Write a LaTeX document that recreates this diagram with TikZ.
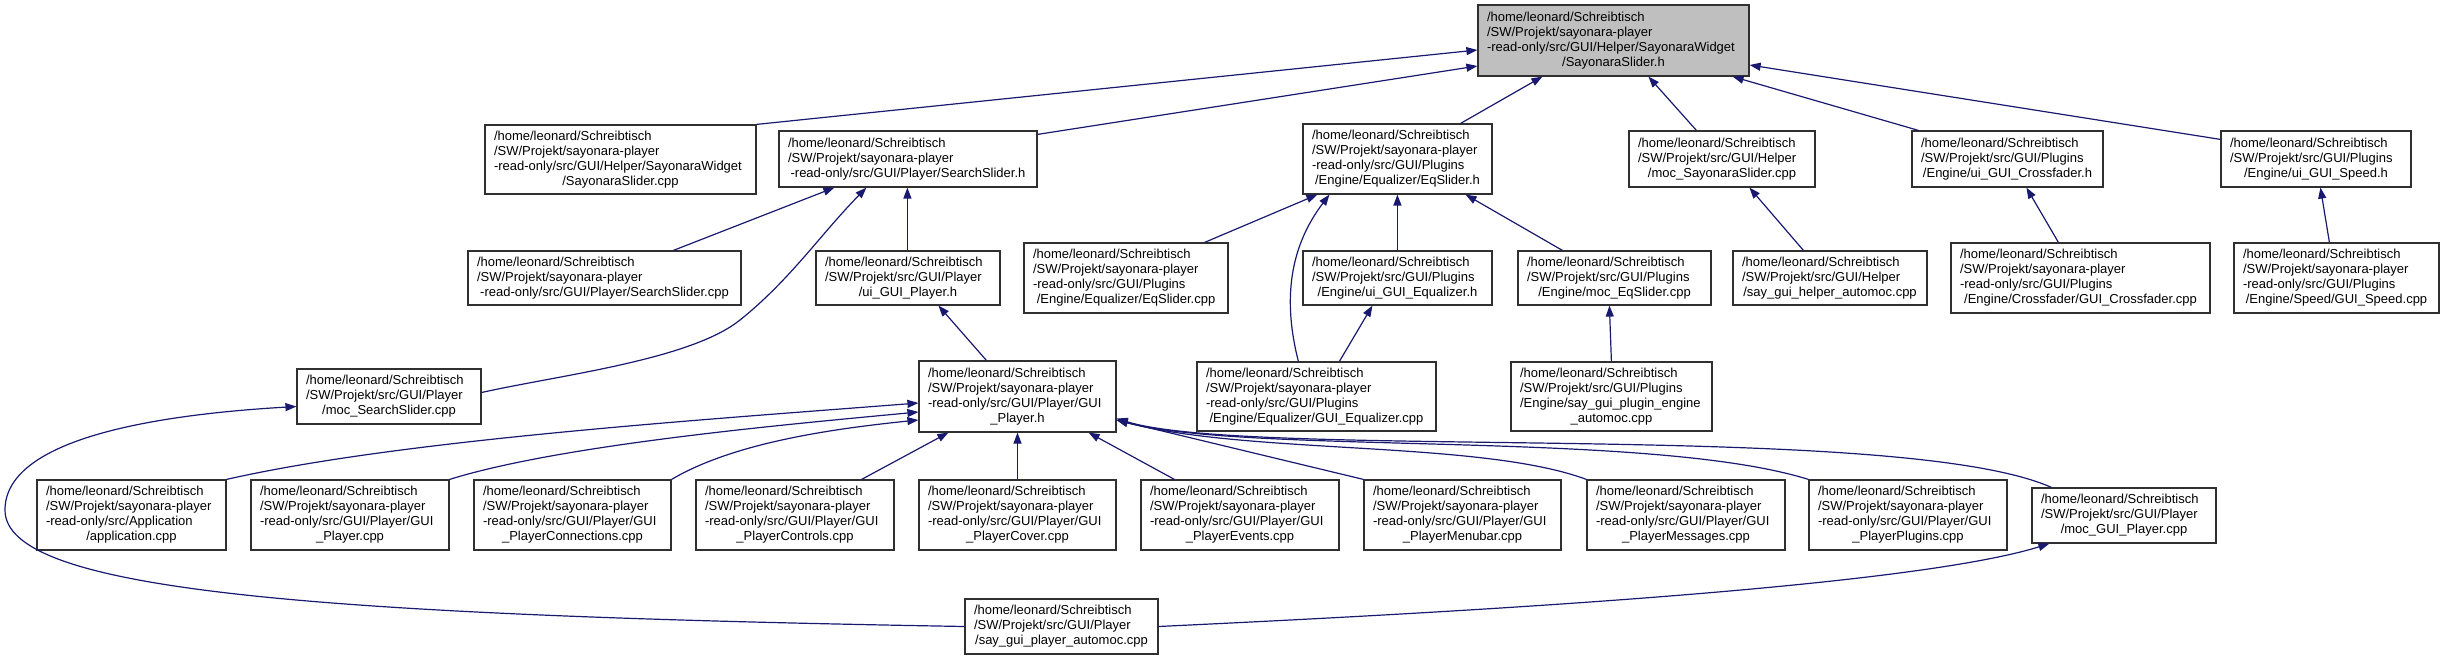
\documentclass[tikz,border=0pt]{standalone}
\usepackage{fontspec}
\setmainfont{Liberation Sans}
\usetikzlibrary{arrows.meta}
\definecolor{edgec}{HTML}{191970}
\definecolor{rootc}{HTML}{BFBFBF}
\definecolor{bordc}{HTML}{303030}
\newcommand\lastl[1]{\\\hspace*{\fill}#1\hspace*{\fill}\hbox{}}
\newcommand\dn[7][]{%
  \pgfmathsetmacro\nw{#5-#3}\pgfmathsetmacro\nh{#6-#4}\pgfmathsetmacro\tw{#5-#3-18}%
  \pgfmathsetmacro\cx{(#3+#5)/2}\pgfmathsetmacro\cy{(#4+#6)/2}%
  \node[box,#1,minimum width=\nw pt,minimum height=\nh pt,text width=\tw pt] (#2) at (\cx,\cy) {#7};}
\tikzset{
  box/.style={draw=bordc, line width=1.2pt, fill=white, inner xsep=9pt, inner ysep=0pt,
    align=left, font=\fontsize{13}{15}\selectfont, anchor=center},
  rootbox/.style={fill=rootc},
  edge/.style={draw=edgec, line width=1.2pt, {Triangle[length=11pt,width=8pt]}-}
}
\def\hs{/home/leonard/Schreibtisch}
\def\sp{/SW/Projekt/sayonara-player}
\begin{document}
\begin{tikzpicture}[x=1pt,y=-1pt]
\useasboundingbox (0,0) rectangle (2444,660);
% row 1
\dn[rootbox]{top}{1478}{5}{1749}{76}{\hs\\\sp\\-read-only/src/GUI/Helper/SayonaraWidget\lastl{/SayonaraSlider.h}}
% row 2
\dn{A}{485}{125}{756}{194}{\hs\\\sp\\-read-only/src/GUI/Helper/SayonaraWidget\lastl{/SayonaraSlider.cpp}}
\dn{B}{779}{131}{1037}{187}{\hs\\\sp\lastl{-read-only/src/GUI/Player/SearchSlider.h}}
\dn{C}{1303}{124}{1492}{194}{\hs\\\sp\\-read-only/src/GUI/Plugins\lastl{/Engine/Equalizer/EqSlider.h}}
\dn{D}{1629}{131}{1815}{187}{\hs\\/SW/Projekt/src/GUI/Helper\lastl{/moc\_SayonaraSlider.cpp}}
\dn{E}{1912}{131}{2103}{187}{\hs\\/SW/Projekt/src/GUI/Plugins\lastl{/Engine/ui\_GUI\_Crossfader.h}}
\dn{F}{2221}{131}{2411}{187}{\hs\\/SW/Projekt/src/GUI/Plugins\lastl{/Engine/ui\_GUI\_Speed.h}}
% row 3
\dn{G}{468}{251}{741}{305}{\hs\\\sp\lastl{-read-only/src/GUI/Player/SearchSlider.cpp}}
\dn{H}{816}{251}{1000}{305}{\hs\\/SW/Projekt/src/GUI/Player\lastl{/ui\_GUI\_Player.h}}
\dn{I}{1024}{243}{1228}{313}{\hs\\\sp\\-read-only/src/GUI/Plugins\lastl{/Engine/Equalizer/EqSlider.cpp}}
\dn{J}{1303}{251}{1492}{305}{\hs\\/SW/Projekt/src/GUI/Plugins\lastl{/Engine/ui\_GUI\_Equalizer.h}}
\dn{K}{1518}{251}{1711}{305}{\hs\\/SW/Projekt/src/GUI/Plugins\lastl{/Engine/moc\_EqSlider.cpp}}
\dn{L}{1733}{251}{1927}{305}{\hs\\/SW/Projekt/src/GUI/Helper\lastl{/say\_gui\_helper\_automoc.cpp}}
\dn{M}{1951}{243}{2210}{313}{\hs\\\sp\\-read-only/src/GUI/Plugins\lastl{/Engine/Crossfader/GUI\_Crossfader.cpp}}
\dn{N}{2234}{243}{2439}{313}{\hs\\\sp\\-read-only/src/GUI/Plugins\lastl{/Engine/Speed/GUI\_Speed.cpp}}
% row 4
\dn{O}{297}{369}{481}{424}{\hs\\/SW/Projekt/src/GUI/Player\lastl{/moc\_SearchSlider.cpp}}
\dn{P}{919}{361}{1116}{432}{\hs\\\sp\\-read-only/src/GUI/Player/GUI\lastl{\_Player.h}}
\dn{Q}{1197}{362}{1436}{431}{\hs\\\sp\\-read-only/src/GUI/Plugins\lastl{/Engine/Equalizer/GUI\_Equalizer.cpp}}
\dn{R}{1511}{362}{1712}{431}{\hs\\/SW/Projekt/src/GUI/Plugins\\/Engine/say\_gui\_plugin\_engine\lastl{\_automoc.cpp}}
% row 5
\dn{S1}{37}{480}{226}{550}{\hs\\\sp\\-read-only/src/Application\lastl{/application.cpp}}
\dn{S2}{251}{480}{449}{550}{\hs\\\sp\\-read-only/src/GUI/Player/GUI\lastl{\_Player.cpp}}
\dn{S3}{474}{480}{671}{550}{\hs\\\sp\\-read-only/src/GUI/Player/GUI\lastl{\_PlayerConnections.cpp}}
\dn{S4}{696}{480}{894}{550}{\hs\\\sp\\-read-only/src/GUI/Player/GUI\lastl{\_PlayerControls.cpp}}
\dn{S5}{919}{480}{1116}{550}{\hs\\\sp\\-read-only/src/GUI/Player/GUI\lastl{\_PlayerCover.cpp}}
\dn{S6}{1141}{480}{1339}{550}{\hs\\\sp\\-read-only/src/GUI/Player/GUI\lastl{\_PlayerEvents.cpp}}
\dn{S7}{1364}{480}{1561}{550}{\hs\\\sp\\-read-only/src/GUI/Player/GUI\lastl{\_PlayerMenubar.cpp}}
\dn{S8}{1587}{480}{1785}{550}{\hs\\\sp\\-read-only/src/GUI/Player/GUI\lastl{\_PlayerMessages.cpp}}
\dn{S9}{1809}{480}{2007}{550}{\hs\\\sp\\-read-only/src/GUI/Player/GUI\lastl{\_PlayerPlugins.cpp}}
\dn{S10}{2032}{488}{2216}{543}{\hs\\/SW/Projekt/src/GUI/Player\lastl{/moc\_GUI\_Player.cpp}}
% row 6
\dn{T}{965}{599}{1158}{654}{\hs\\/SW/Projekt/src/GUI/Player\lastl{/say\_gui\_player\_automoc.cpp}}
% edges into top
\draw[edge] ([yshift=-9.5pt]top.west) -- (A.north east);
\draw[edge] ([yshift=-25.5pt]top.west) -- ([yshift=-4pt]B.north east);
\draw[edge] ([xshift=65pt]top.south west) -- ([xshift=-32pt]C.north east);
\draw[edge] ([xshift=171pt]top.south west) -- ([xshift=68pt]D.north west);
\draw[edge] ([xshift=-17pt]top.south east) -- ([xshift=7pt]E.north west);
\draw[edge] ([yshift=-24.5pt]top.east) -- ([yshift=-9pt]F.north west);
% into B
\draw[edge] ([xshift=56pt]B.south west) -- ([xshift=206pt]G.north west);
\draw[edge] ([xshift=88pt]B.south west) .. controls (820,235) and (790,280) .. (740,320)
  .. controls (690,360) and (560,375) .. ([yshift=4pt]O.east);
\draw[edge] ([xshift=129pt]B.south west) -- ([xshift=92pt]H.north west);
% into C
\draw[edge] ([xshift=15pt]C.south west) -- ([xshift=-24pt]I.north east);
\draw[edge] ([xshift=27pt]C.south west) .. controls (1295,240) and (1280,290) .. ([xshift=102pt]Q.north west);
\draw[edge] ([xshift=95pt]C.south west) -- ([xshift=95pt]J.north west);
\draw[edge] ([xshift=-27pt]C.south east) -- ([xshift=45pt]K.north west);
% into D, E, F
\draw[edge] ([xshift=121pt]D.south west) -- ([xshift=71pt]L.north west);
\draw[edge] ([xshift=115pt]E.south west) -- ([xshift=108pt]M.north west);
\draw[edge] ([xshift=100pt]F.south west) -- ([xshift=96pt]N.north west);
% row 3 to row 4
\draw[edge] ([xshift=123pt]H.south west) -- ([xshift=68pt]P.north west);
\draw[edge] ([xshift=70pt]J.south west) -- ([xshift=143pt]Q.north west);
\draw[edge] ([xshift=92pt]K.south west) -- ([xshift=101pt]R.north west);
% O <- T
\draw[edge] ([yshift=-10pt]O.west) .. controls (150,415) and (5,440) .. (5,510)
  .. controls (5,590) and (300,615) .. (T.west);
% into P
\draw[edge] ([yshift=-6.5pt]P.west) .. controls (700,420) and (400,440) .. (S1.north east);
\draw[edge] ([yshift=-15.5pt]P.west) .. controls (780,425) and (560,445) .. (S2.north east);
\draw[edge] ([yshift=-23.5pt]P.west) .. controls (820,430) and (730,445) .. (S3.north east);
\draw[edge] ([xshift=30pt]P.south west) -- ([xshift=-33pt]S4.north east);
\draw[edge] (P.south) -- (S5.north);
\draw[edge] ([xshift=-28pt]P.south east) -- ([xshift=34pt]S6.north west);
\draw[edge] ([yshift=-23.5pt]P.east) -- (S7.north west);
\draw[edge] ([yshift=-23.5pt]P.east) .. controls (1250,455) and (1480,440) .. (S8.north west);
\draw[edge] ([yshift=-23.5pt]P.east) .. controls (1250,455) and (1650,430) .. (S9.north west);
\draw[edge] ([yshift=-22pt]P.east) .. controls (1250,460) and (1900,420) .. ([xshift=20pt]S10.north west);
% S10 <- T
\draw[edge] ([xshift=18pt]S10.south west) .. controls (1900,590) and (1400,615) .. (T.east);
\end{tikzpicture}
\end{document}
